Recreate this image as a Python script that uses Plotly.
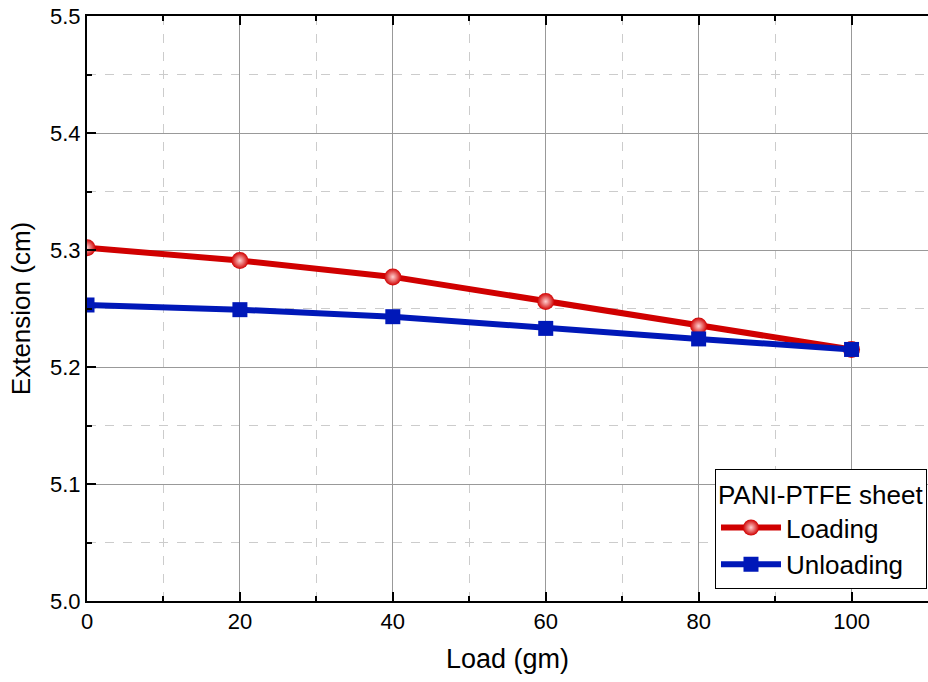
import plotly.graph_objects as go

load = [0, 20, 40, 60, 80, 100]
loading = [5.302, 5.291, 5.277, 5.256, 5.235, 5.215]
unloading = [5.253, 5.249, 5.243, 5.233, 5.224, 5.215]

fig = go.Figure()
fig.add_trace(go.Scatter(
    x=load, y=loading, name="Loading", mode="lines+markers",
    line=dict(color="#d00000", width=6),
    marker=dict(symbol="circle", size=17, color="#d00000",
                gradient=dict(type="radial", color="#ffd0d0"),
                line=dict(width=0)),
))
fig.add_trace(go.Scatter(
    x=load, y=unloading, name="Unloading", mode="lines+markers",
    line=dict(color="#0018b8", width=6),
    marker=dict(symbol="square", size=15, color="#0018b8", line=dict(width=0)),
))

font = "Liberation Sans, Arial, sans-serif"
fig.update_layout(
    width=928, height=682,
    margin=dict(l=87, r=0, t=16, b=81),
    plot_bgcolor="white", paper_bgcolor="white",
    font=dict(family=font, size=22, color="black"),
    legend=dict(
        title=dict(text="PANI-PTFE sheet", font=dict(size=26)),
        font=dict(size=26),
        x=0.9988, xanchor="right", y=0.02, yanchor="bottom",
        bordercolor="black", borderwidth=1, bgcolor="white",
        tracegroupgap=0, itemwidth=60,
    ),
    showlegend=True,
)
fig.update_xaxes(
    range=[0, 110], tickvals=[0, 20, 40, 60, 80, 100],
    showline=True, linecolor="black", linewidth=2, mirror="ticks",
    ticks="inside", ticklen=9, tickwidth=2, tickcolor="black",
    showgrid=True, gridcolor="#999999", gridwidth=1,
    minor=dict(dtick=10, ticks="inside", ticklen=5, tickwidth=1.5, tickcolor="black",
               showgrid=True, gridcolor="#cccccc", griddash="dash", gridwidth=1),
    zeroline=False,
    title=dict(text="Load (gm)", font=dict(size=27), standoff=16),
    tickfont=dict(size=22),
)
fig.update_yaxes(
    range=[5.0, 5.5], tickvals=[5.0, 5.1, 5.2, 5.3, 5.4, 5.5], tickformat=".1f",
    showline=True, linecolor="black", linewidth=2, mirror=False,
    ticks="inside", ticklen=9, tickwidth=2, tickcolor="black",
    showgrid=True, gridcolor="#999999", gridwidth=1,
    minor=dict(dtick=0.05, ticks="inside", ticklen=5, tickwidth=1.5, tickcolor="black",
               showgrid=True, gridcolor="#cccccc", griddash="dash", gridwidth=1),
    zeroline=False,
    title=dict(text="Extension (cm)", font=dict(size=26), standoff=12),
    tickfont=dict(size=22),
)
fig.write_html("out.html")
